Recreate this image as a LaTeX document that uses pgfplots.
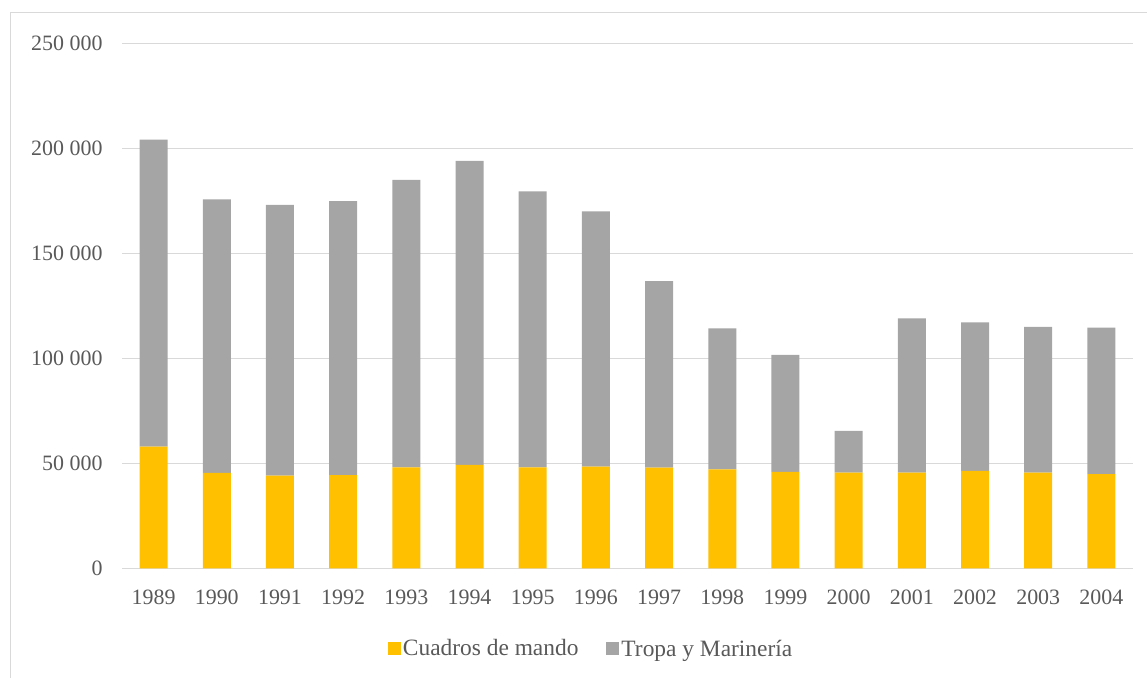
\documentclass[border=0pt]{standalone}
\usepackage{pgfplots}
\pgfplotsset{compat=1.18}
\usepackage{fontspec}
\setmainfont{Liberation Serif}
\definecolor{cyel}{HTML}{FFC000}
\definecolor{cgray}{HTML}{A5A5A5}
\definecolor{ctxt}{HTML}{595959}
\definecolor{cgrid}{HTML}{D9D9D9}
\begin{document}
\begin{tikzpicture}[x=1bp,y=1bp]
\useasboundingbox (0,0) rectangle (1147,678);
\draw[cgrid,line width=1bp] (10,0) -- (10,665) -- (1147,665);
\begin{axis}[
  at={(122bp,109.7bp)}, anchor=south west,
  scale only axis, width=1011bp, height=525bp,
  ybar stacked, bar width=28bp,
  xmin=-0.5, xmax=15.5, ymin=0, ymax=250000,
  xtick=data,
  xticklabels={1989,1990,1991,1992,1993,1994,1995,1996,1997,1998,1999,2000,2001,2002,2003,2004},
  ytick={0,50000,100000,150000,200000,250000},
  yticklabels={0,50 000,100 000,150 000,200 000,250 000},
  scaled y ticks=false,
  ymajorgrids, grid style={cgrid, line width=1.3bp},
  axis line style={draw=none},
  major tick length=0pt,
  tick label style={font=\fontsize{22}{25}\selectfont, text=ctxt},
  xticklabel style={yshift=-18bp},
  yticklabel style={xshift=-16bp},
  legend style={at={(0.464,-0.153)}, anchor=center, draw=none, legend columns=2,
    font=\fontsize{23.5}{26}\selectfont, text=ctxt,
    /tikz/every even column/.append style={column sep=26bp}},
  legend image code/.code={\fill[#1] (0bp,-6.5bp) rectangle (13bp,6.5bp);},
  legend cell align=left,
]
\addplot[fill=cyel, draw=none] coordinates {
(0,57900) (1,45400) (2,44100) (3,44400) (4,48100) (5,49300) (6,48100) (7,48400)
(8,47900) (9,47100) (10,45900) (11,45500) (12,45500) (13,46400) (14,45500) (15,44800)};
\addplot[fill=cgray, draw=none] coordinates {
(0,146200) (1,130300) (2,129000) (3,130400) (4,136800) (5,144650) (6,131400) (7,121600)
(8,88900) (9,67200) (10,55700) (11,19900) (12,73500) (13,70700) (14,69500) (15,69800)};
\legend{Cuadros de mando, Tropa y Marinería}
\end{axis}
\end{tikzpicture}
\end{document}
